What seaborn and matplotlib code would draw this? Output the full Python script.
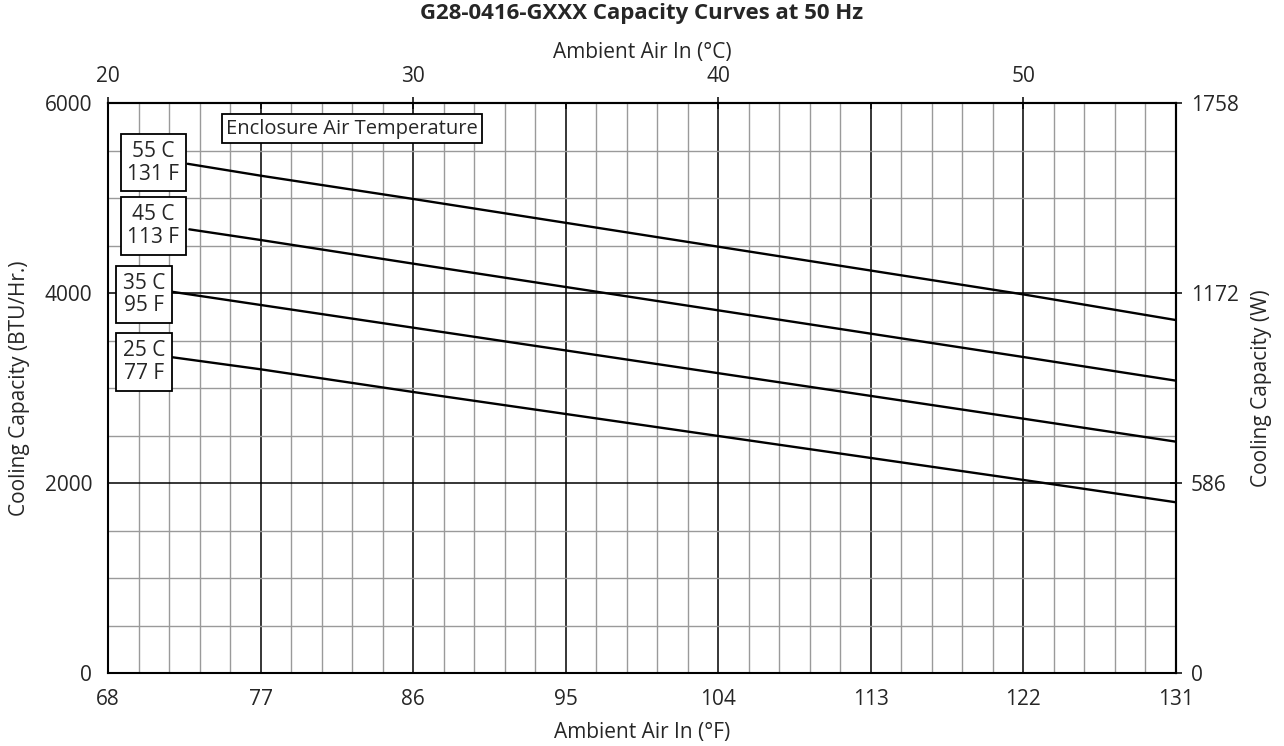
import numpy as np
import pandas as pd
import matplotlib
matplotlib.use("Agg")
import matplotlib.pyplot as plt
import seaborn as sns

# ---- data ----
series_labels = ["55 C\n131 F", "45 C\n113 F", "35 C\n95 F", "25 C\n77 F"]
series_names = ["55C", "45C", "35C", "25C"]
x_55 = [72.7, 77, 86, 122, 131]
y_55 = [5360, 5235, 4990, 3985, 3715]
x_45 = [72.8, 77, 86, 122, 131]
y_45 = [4670, 4558, 4309, 3326, 3077]
x_35 = [71.7, 77, 86, 122, 131]
y_35 = [4015, 3874, 3635, 2677, 2435]
x_25 = [71.7, 77, 86, 122, 131]
y_25 = [3326, 3197, 2958, 2032, 1797]

label_x = [70.67, 70.67, 70.14, 70.14]
label_y = [5370, 4705, 3984, 3274]

x_ticks_f = [68, 77, 86, 95, 104, 113, 122, 131]
y_ticks_btu = [0, 2000, 4000, 6000]
y_ticks_w = [0, 586, 1172, 1758]
x_ticks_c = [20, 30, 40, 50]

xs = [x_55, x_45, x_35, x_25]
ys = [y_55, y_45, y_35, y_25]
df = pd.DataFrame({
    "F": sum(xs, []),
    "BTU": sum(ys, []),
    "series": sum([[n] * len(x) for n, x in zip(series_names, xs)], []),
})

FS = 15
sns.set_style("white")
plt.rcParams["font.family"] = ["Open Sans", "DejaVu Sans"]
plt.rcParams["font.size"] = FS

fig = plt.figure(figsize=(12.84, 7.46), dpi=100)
ax = fig.add_axes([108 / 1284, 1 - 673 / 746, 1068 / 1284, 570 / 746])

sns.lineplot(data=df, x="F", y="BTU", hue="series", palette=["black"] * 4,
             legend=False, linewidth=1.7, estimator=None, sort=False, ax=ax)

ax.set_xlim(68, 131)
ax.set_ylim(0, 6000)
ax.set_xticks(x_ticks_f)
ax.set_xticks(np.arange(68, 131.01, 1.8), minor=True)
ax.set_yticks(y_ticks_btu)
ax.set_yticks(np.arange(0, 6001, 500), minor=True)
ax.set_axisbelow(True)
ax.grid(which="major", color="black", linewidth=1.1)
ax.grid(which="minor", color="#9a9a9a", linewidth=1.0)
ax.tick_params(which="major", direction="inout", length=9, width=1.3, pad=7, labelsize=FS)
ax.tick_params(which="minor", length=0)
for s in ax.spines.values():
    s.set_linewidth(1.5)
    s.set_color("black")

ax.set_xlabel("Ambient Air In (°F)", fontsize=FS)
ax.set_ylabel("Cooling Capacity (BTU/Hr.)", fontsize=FS)
ax.xaxis.set_label_coords(0.5, -0.086)
ax.yaxis.set_label_coords(-0.073, 0.5)

f2c = lambda f: (f - 32) * 5 / 9
c2f = lambda c: c * 9 / 5 + 32
secx = ax.secondary_xaxis("top", functions=(f2c, c2f))
secx.set_xticks(x_ticks_c)
secx.set_xticks([25, 35, 45, 55], minor=True)
secx.tick_params(which="major", direction="inout", length=9, width=1.3, pad=7, labelsize=FS)
secx.tick_params(which="minor", direction="in", length=4, width=1.2)
secx.set_xlabel("Ambient Air In (°C)", fontsize=FS)
secx.xaxis.set_label_coords(0.5, 1.079, transform=ax.transAxes)

btu2w = lambda b: b * 0.29307
w2btu = lambda w: w / 0.29307
secy = ax.secondary_yaxis("right", functions=(btu2w, w2btu))
secy.set_yticks(y_ticks_w)
secy.tick_params(which="major", direction="inout", length=9, width=1.3, pad=6, labelsize=FS)
secy.set_ylabel("Cooling Capacity (W)", fontsize=FS)
secy.yaxis.set_label_coords(1.0705, 0.5, transform=ax.transAxes)
for a in (secx, secy):
    for s in a.spines.values():
        s.set_linewidth(1.5)

box = dict(boxstyle="square,pad=0.32", facecolor="white", edgecolor="black", linewidth=1.3)
for lbl, lx, ly in zip(series_labels, label_x, label_y):
    ax.text(lx, ly, lbl, ha="center", va="center", multialignment="center",
            fontsize=FS, linespacing=1.12, bbox=box, zorder=5)

ax.text(82.39, 5728, "Enclosure Air Temperature", ha="center", va="center",
        fontsize=14.5, bbox=dict(boxstyle="square,pad=0.22", facecolor="white",
                                 edgecolor="black", linewidth=1.3), zorder=5)

ax.text(0.5, 1.157, "G28-0416-GXXX Capacity Curves at 50 Hz", transform=ax.transAxes,
        ha="center", va="center", fontsize=16, fontweight="bold")

fig.savefig("out.png", dpi=100)
